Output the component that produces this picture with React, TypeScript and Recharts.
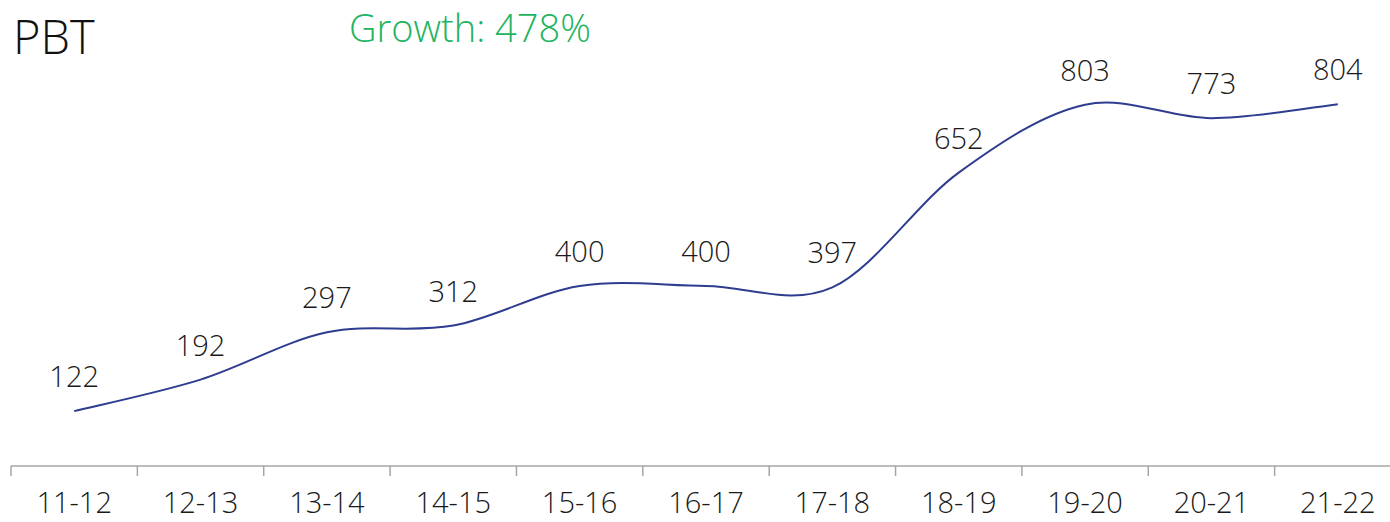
import { LineChart, Line, XAxis, YAxis, LabelList } from "recharts";

const years = ["11-12", "12-13", "13-14", "14-15", "15-16", "16-17", "17-18", "18-19", "19-20", "20-21", "21-22"];
const pbt = [122, 192, 297, 312, 400, 400, 397, 652, 803, 773, 804];
const title = "PBT";
const growthLabel = "Growth: 478%";

const data = years.map((year, i) => ({ year, pbt: pbt[i] }));

const FONT = "'Open Sans', sans-serif";
const CHART_W = 1412;
const MARGIN_X = 11;
const HALF_BAND = (CHART_W - MARGIN_X * 2) / years.length / 2;

// Excel-style smoothed line (Catmull-Rom through each point)
const excelSmooth = (context: any) => {
  let pts: [number, number][] = [];
  return {
    areaStart() {},
    areaEnd() {},
    lineStart() {
      pts = [];
    },
    point(x: number, y: number) {
      pts.push([x, y]);
    },
    lineEnd() {
      if (!pts.length) return;
      context.moveTo(pts[0][0], pts[0][1]);
      for (let i = 0; i < pts.length - 1; i++) {
        const p0 = pts[i - 1] || pts[i];
        const p1 = pts[i];
        const p2 = pts[i + 1];
        const p3 = pts[i + 2] || p2;
        context.bezierCurveTo(
          p1[0] + (p2[0] - p0[0]) / 6,
          p1[1] + (p2[1] - p0[1]) / 6,
          p2[0] - (p3[0] - p1[0]) / 6,
          p2[1] - (p3[1] - p1[1]) / 6,
          p2[0],
          p2[1]
        );
      }
    },
  };
};

const YearTick = ({ x, y, payload }: { x?: number; y?: number; payload?: { value: string } }) => {
  const left = (x ?? 0) - HALF_BAND;
  return (
    <g>
      <line x1={left} x2={left} y1={y} y2={(y ?? 0) + 10} stroke="#a6a6a6" strokeWidth={1.5} />
      <text x={x} y={(y ?? 0) + 47} textAnchor="middle" fontSize={29} fontWeight={300} fill="#1a1a1a" fontFamily={FONT}>
        {payload?.value}
      </text>
    </g>
  );
};

export default function App() {
  return (
    <div style={{ position: "fixed", left: 0, top: 0, width: 1390, height: 522, overflow: "hidden", background: "#fff" }}>
      <div style={{ position: "absolute", left: 13, top: 13, fontSize: 47, fontWeight: 300, lineHeight: 1, fontFamily: FONT, color: "#111" }}>
        {title}
      </div>
      <div style={{ position: "absolute", left: 349, top: 8, fontSize: 38, fontWeight: 300, lineHeight: 1, fontFamily: FONT, color: "#22b35e" }}>
        {growthLabel}
      </div>
      <LineChart width={CHART_W} height={522} data={data} margin={{ top: 16, right: MARGIN_X, bottom: 0, left: MARGIN_X }}>
        <XAxis
          dataKey="year"
          axisLine={{ stroke: "#a6a6a6", strokeWidth: 1.5 }}
          tickLine={false}
          tickSize={0}
          tickMargin={0}
          interval={0}
          height={56}
          padding={{ left: HALF_BAND, right: HALF_BAND }}
          tick={<YearTick />}
        />
        <YAxis hide domain={[0, 1000]} />
        <Line
          type={excelSmooth as any}
          dataKey="pbt"
          stroke="#2e3d8f"
          strokeWidth={2}
          dot={false}
          activeDot={false}
          isAnimationActive={false}
        >
          <LabelList dataKey="pbt" position="top" offset={24} fontSize={29} fontWeight={300} fill="#1a1a1a" fontFamily={FONT} />
        </Line>
      </LineChart>
    </div>
  );
}
